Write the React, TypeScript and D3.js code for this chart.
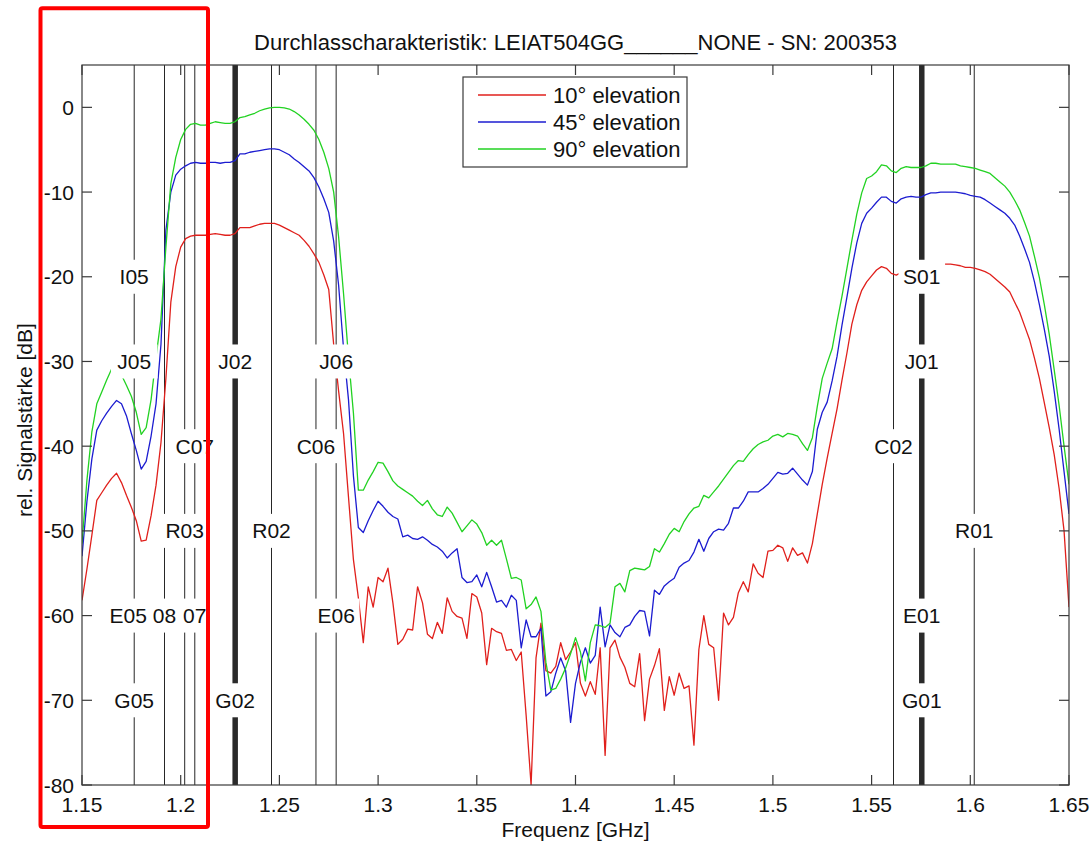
import React from 'react';
import * as d3 from 'd3';

const freq = [
  1.15, 1.1525, 1.155, 1.1575, 1.16, 1.1625, 1.165, 1.1675, 1.17, 1.1725,
  1.175, 1.1775, 1.18, 1.1825, 1.185, 1.1875, 1.19, 1.1925, 1.195, 1.1975,
  1.2, 1.2025, 1.205, 1.2075, 1.21, 1.2125, 1.215, 1.2175, 1.22, 1.2225,
  1.225, 1.2275, 1.23, 1.2325, 1.235, 1.2375, 1.24, 1.2425, 1.245, 1.2475,
  1.25, 1.2525, 1.255, 1.2575, 1.26, 1.2625, 1.265, 1.2675, 1.27, 1.2725,
  1.275, 1.2775, 1.28, 1.2825, 1.285, 1.2875, 1.29, 1.2925, 1.295, 1.2975,
  1.3, 1.3025, 1.305, 1.3075, 1.31, 1.3125, 1.315, 1.3175, 1.32, 1.3225,
  1.325, 1.3275, 1.33, 1.3325, 1.335, 1.3375, 1.34, 1.3425, 1.345, 1.3475,
  1.35, 1.3525, 1.355, 1.3575, 1.36, 1.3625, 1.365, 1.3675, 1.37, 1.3725,
  1.375, 1.3775, 1.38, 1.3825, 1.385, 1.3875, 1.39, 1.3925, 1.395, 1.3975,
  1.4, 1.4025, 1.405, 1.4075, 1.41, 1.4125, 1.415, 1.4175, 1.42, 1.4225,
  1.425, 1.4275, 1.43, 1.4325, 1.435, 1.4375, 1.44, 1.4425, 1.445, 1.4475,
  1.45, 1.4525, 1.455, 1.4575, 1.46, 1.4625, 1.465, 1.4675, 1.47, 1.4725,
  1.475, 1.4775, 1.48, 1.4825, 1.485, 1.4875, 1.49, 1.4925, 1.495, 1.4975,
  1.5, 1.5025, 1.505, 1.5075, 1.51, 1.5125, 1.515, 1.5175, 1.52, 1.5225,
  1.525, 1.5275, 1.53, 1.5325, 1.535, 1.5375, 1.54, 1.5425, 1.545, 1.5475,
  1.55, 1.5525, 1.555, 1.5575, 1.56, 1.5625, 1.565, 1.5675, 1.57, 1.5725,
  1.575, 1.5775, 1.58, 1.5825, 1.585, 1.5875, 1.59, 1.5925, 1.595, 1.5975,
  1.6, 1.6025, 1.605, 1.6075, 1.61, 1.6125, 1.615, 1.6175, 1.62, 1.6225,
  1.625, 1.6275, 1.63, 1.6325, 1.635, 1.6375, 1.64, 1.6425, 1.645, 1.6475,
  1.65,
];

const elev10 = [
  -58.2, -54.5, -50.5, -46.4, -45.5, -44.6, -43.8, -43.2, -44.3, -45.8,
  -47.2, -48.8, -51.2, -51.1, -48.2, -44.6, -39.6, -32, -23, -18.8,
  -16.5, -15.5, -15.2, -15.1, -15.1, -15.1, -15, -14.9, -15, -15.1,
  -15.1, -14.9, -14.2, -14.2, -14.2, -14, -13.8, -13.7, -13.7, -13.7,
  -13.9, -14.2, -14.5, -14.8, -15.1, -15.7, -16.4, -17.3, -18.3, -19.8,
  -21.5, -28, -33.5, -38.5, -46, -53.4, -57.9, -63.2, -56.6, -59,
  -55.5, -56, -54.4, -58.5, -63.4, -62.8, -61.6, -61.7, -56.6, -58.5,
  -62.2, -62.7, -60.8, -62.1, -57.9, -59.5, -60.1, -60.3, -62.7, -57.4,
  -57.8, -59.7, -65.8, -61.5, -61.9, -62.1, -64.1, -64, -65.3, -64.3,
  -71.8, -80, -65, -60.9, -66.5, -66.8, -66, -63.2, -65.2, -64.3,
  -63.2, -68, -69.5, -67.8, -69.3, -63.8, -76.5, -63.8, -62.9, -64.9,
  -66.1, -68, -68.4, -64.5, -72.4, -67.5, -65.9, -63.9, -71.2, -67.2,
  -69.4, -66.8, -68.6, -68.3, -75.3, -64, -60, -63.4, -63.8, -70,
  -59.7, -61.1, -60.2, -57.3, -56, -57.2, -53.9, -55, -55.5, -52.4,
  -52.3, -51.7, -52, -53.6, -52, -52.9, -52.6, -53.8, -51.5, -48,
  -44.5, -41.4, -38.5, -35.6, -32.2, -29, -25.6, -23.3, -21.6, -20.6,
  -19.9, -19.2, -18.8, -19, -19.6, -19.8, -19.5, -19.2, -19, -18.8,
  -18.7, -18.6, -18.5, -18.5, -18.5, -18.5, -18.5, -18.6, -18.7, -18.9,
  -18.9, -19, -19.2, -19.4, -19.7, -20.2, -20.7, -21.2, -21.8, -23,
  -24.2, -25.8, -27.4, -29.6, -32, -34.9, -37.8, -41, -45, -50,
  -59,
];

const elev45 = [
  -53, -46.5, -41.5, -38.1, -37, -36.1, -35.3, -34.6, -35, -36.4,
  -38.5, -40.5, -42.7, -41.8, -38.8, -35, -28, -14.5, -10, -8,
  -7.3, -6.9, -6.6, -6.5, -6.6, -6.6, -6.5, -6.5, -6.6, -6.5,
  -6.5, -6.3, -5.5, -5.5, -5.3, -5.2, -5.1, -5, -4.9, -4.9,
  -5, -5.3, -5.6, -6.1, -6.5, -7, -7.5, -8.3, -9.4, -10.8,
  -12.4, -15.8, -21, -28.5, -34.5, -43.5, -49.6, -50.2, -48.8, -47.6,
  -46.5, -47.1, -47.8, -48.3, -48.6, -50.7, -50.5, -50.9, -51, -50.7,
  -51.1, -51.6, -51.9, -52.4, -53.2, -52.6, -52.1, -55.5, -56.1, -56,
  -55.2, -56.6, -54.9, -56.6, -58.4, -58.2, -59, -57.6, -58.2, -63.8,
  -60.5, -62.5, -62.5, -61.5, -69.5, -69, -66.8, -65, -66.5, -72.6,
  -68, -65.5, -63.8, -65.6, -64.7, -59, -63.7, -61.1, -62, -62.5,
  -61.4, -61.1, -60.1, -59.4, -59.5, -62.4, -57, -57.5, -56.5, -56,
  -55.6, -54.3, -53.8, -53.5, -52.5, -51, -52.4, -50.9, -50.1, -49.8,
  -49.9, -49.1, -47.3, -47.3, -46.5, -45.4, -45.4, -45.4, -45, -44.5,
  -43.8, -43.1, -43.3, -43.2, -42.6, -43.3, -44, -44.6, -43, -38,
  -36, -34.8, -32.3, -29.4, -25.7, -22.4, -19, -16, -13.7, -12.5,
  -11.9, -11.2, -10.6, -10.6, -11.1, -11.3, -10.8, -10.6, -10.5, -10.6,
  -10.6, -10.3, -10.1, -10.1, -10, -10, -10, -10, -10.1, -10.2,
  -10.4, -10.5, -10.6, -10.9, -11.3, -11.7, -12.1, -12.5, -13.1, -13.9,
  -15.2, -16.7, -18.3, -20.6, -23.3, -26.2, -29.4, -33.5, -38, -43,
  -48,
];

const elev90 = [
  -51.5, -44, -38.3, -35, -33.6, -32.2, -30.9, -30.5, -31.6, -32.8,
  -34.1, -36, -38.6, -37.8, -34.5, -29.5, -25, -16.5, -9, -5.9,
  -3.8, -2.6, -2, -1.9, -2.1, -2.1, -1.9, -1.7, -1.8, -1.9,
  -1.9, -1.7, -1.2, -1.1, -0.9, -0.7, -0.4, -0.2, -0.05, 0,
  0, -0.05, -0.2, -0.5, -0.9, -1.4, -2, -2.7, -3.8, -5.3,
  -7.2, -10, -15.3, -22, -29.5, -36.1, -45.2, -45.2, -44, -43,
  -41.9, -42, -43, -44.1, -44.7, -45.1, -45.5, -45.9, -46.5, -47,
  -46.4, -47.4, -48.1, -48.3, -47.2, -47.9, -49, -50.1, -49.4, -48.7,
  -49.2, -50.2, -51.7, -51.1, -51.7, -51.1, -53.3, -55.6, -55.5, -55.8,
  -59.2, -58.7, -57.8, -59.5, -65.5, -68.8, -68.6, -67.5, -66.2, -64.5,
  -62.6, -64.3, -67.7, -63.2, -61.1, -61.2, -61.4, -60.9, -56.6, -56.2,
  -57.2, -54.7, -54.4, -54.5, -54.6, -54.2, -52.1, -52.5, -51.5, -50.4,
  -49.7, -50.1, -48.9, -48, -47.3, -47.1, -45.8, -46.1, -45.4, -44.7,
  -43.9, -43.1, -42.3, -41.7, -41.8, -41, -40.3, -39.8, -39.5, -39.3,
  -38.8, -38.6, -38.9, -38.5, -38.6, -38.8, -39.7, -40.5, -39, -35.3,
  -32, -30.2, -28.5, -25.3, -22.3, -19, -15.7, -12.6, -10.1, -8.4,
  -8.1, -7.6, -6.8, -6.9, -7.5, -7.7, -7.2, -7, -7.1, -7.1,
  -7.1, -6.9, -6.6, -6.6, -6.7, -6.7, -6.7, -6.7, -6.9, -7,
  -7.1, -7.2, -7.4, -7.6, -7.8, -8.3, -8.8, -9.3, -10, -11,
  -12.1, -13.6, -15.2, -17.6, -20.1, -23.3, -26.8, -31, -35.2, -40,
  -44.5,
];

const seriesNames = ['10° elevation', '45° elevation', '90° elevation'];
const xTicks = [1.15, 1.2, 1.25, 1.3, 1.35, 1.4, 1.45, 1.5, 1.55, 1.6, 1.65];
const yTicks = [0, -10, -20, -30, -40, -50, -60, -70, -80];

const thinMarkers = [1.17645, 1.191795, 1.202025, 1.20714, 1.246, 1.26852, 1.27875, 1.561098, 1.602];
const thickMarkers = [1.2276, 1.57542];

const labelText = ['I05', 'J05', 'C07', 'R03', 'E05', '08', '07', 'G05', 'J02', 'R02', 'G02', 'J06', 'C06', 'E06', 'S01', 'J01', 'C02', 'R01', 'E01', 'G01'];
const labelFreq = [1.17645, 1.17645, 1.20714, 1.202025, 1.17645, 1.191795, 1.20714, 1.17645, 1.2276, 1.246, 1.2276, 1.27875, 1.26852, 1.27875, 1.57542, 1.57542, 1.561098, 1.602, 1.57542, 1.57542];
const labelLevel = [-20, -30, -40, -50, -60, -60, -60, -70, -30, -50, -70, -30, -40, -60, -20, -30, -40, -50, -60, -70];

const titleText = 'Durchlasscharakteristik: LEIAT504GG______NONE - SN: 200353';
const xLabel = 'Frequenz [GHz]';
const yLabel = 'rel. Signalstärke [dB]';

const W = 1092;
const H = 847;
const L = 82, R = 1069, T = 65, B = 785;
const FONT = '"Liberation Sans", Arial, Helvetica, sans-serif';
const COLORS = ['#e0201c', '#1c1cd0', '#22d222'];
const AX = '#3a3a3a';

export default function App() {
  const x = d3.scaleLinear().domain([1.15, 1.65]).range([L, R]);
  const y = d3.scaleLinear().domain([-80, 5]).range([B, T]);
  const series = [elev10, elev45, elev90];
  const line = d3
    .line<number>()
    .x((_, i) => x(freq[i]))
    .y((d) => y(d));

  const shift: Record<string, number> = { E05: -6 };

  return (
    <svg width={W} height={H} style={{ position: 'absolute', left: 0, top: 0, background: '#fff' }} fontFamily={FONT}>
      <defs>
        <clipPath id="plot">
          <rect x={L} y={T} width={R - L} height={B - T} />
        </clipPath>
      </defs>
      <rect x={0} y={0} width={W} height={H} fill="#fff" />

      {/* marker lines */}
      <g clipPath="url(#plot)">
        {thinMarkers.map((f, i) => (
          <line key={'t' + i} x1={x(f)} x2={x(f)} y1={T} y2={B} stroke="#262626" strokeWidth={1} />
        ))}
        {thickMarkers.map((f, i) => (
          <line key={'k' + i} x1={x(f)} x2={x(f)} y1={T} y2={B} stroke="#2a2a2a" strokeWidth={5.5} />
        ))}
      </g>

      {/* curves */}
      <g clipPath="url(#plot)" fill="none">
        {series.map((s, i) => (
          <path key={i} d={line(s) || ''} stroke={COLORS[i]} strokeWidth={1.3} strokeLinejoin="round" />
        ))}
      </g>

      {/* marker labels */}
      <g fontSize={21} fill="#111">
        {labelText.map((t, i) => {
          const cx = x(labelFreq[i]) + (shift[t] || 0);
          const cy = y(labelLevel[i]);
          const w = t.length * 12.2 + 10;
          return (
            <g key={t + i}>
              <rect x={cx - w / 2} y={cy - 17} width={w} height={34} fill="#fff" />
              <text x={cx} y={cy + 7.5} textAnchor="middle">
                {t}
              </text>
            </g>
          );
        })}
      </g>

      {/* axes box */}
      <g stroke={AX} strokeWidth={1.2} fill="none">
        <rect x={L} y={T} width={R - L} height={B - T} />
        {xTicks.map((t) => (
          <g key={'xt' + t}>
            <line x1={x(t)} x2={x(t)} y1={B} y2={B - 10} />
            <line x1={x(t)} x2={x(t)} y1={T} y2={T + 10} />
          </g>
        ))}
        {yTicks.map((t) => (
          <g key={'yt' + t}>
            <line x1={L} x2={L + 10} y1={y(t)} y2={y(t)} />
            <line x1={R} x2={R - 10} y1={y(t)} y2={y(t)} />
          </g>
        ))}
      </g>
      <g fontSize={21} fill="#111">
        {xTicks.map((t) => (
          <text key={'xl' + t} x={x(t)} y={812} textAnchor="middle">
            {d3.format('')(t)}
          </text>
        ))}
        {yTicks.map((t) => (
          <text key={'yl' + t} x={L - 8} y={y(t) + 7.5} textAnchor="end">
            {t}
          </text>
        ))}
      </g>

      {/* legend */}
      <g>
        <rect x={463} y={77} width={224} height={90} fill="#fff" stroke={AX} strokeWidth={1.2} />
        {seriesNames.map((n, i) => (
          <g key={n}>
            <line x1={478} x2={546} y1={95 + i * 27} y2={95 + i * 27} stroke={COLORS[i]} strokeWidth={1.3} />
            <text x={553} y={95 + i * 27 + 8} fontSize={22} fill="#111">
              {n}
            </text>
          </g>
        ))}
      </g>

      {/* titles */}
      <text x={(L + R) / 2} y={50} fontSize={22} textAnchor="middle" fill="#111">
        {titleText}
      </text>
      <text x={(L + R) / 2} y={837} fontSize={21} textAnchor="middle" fill="#111">
        {xLabel}
      </text>
      <text transform={`translate(31.5,420) rotate(-90)`} fontSize={21} textAnchor="middle" fill="#111">
        {yLabel}
      </text>

      {/* highlight box */}
      <rect x={40.5} y={8.3} width={167.5} height={818.7} fill="none" stroke="#ff0000" strokeWidth={4} rx={2} />
    </svg>
  );
}
